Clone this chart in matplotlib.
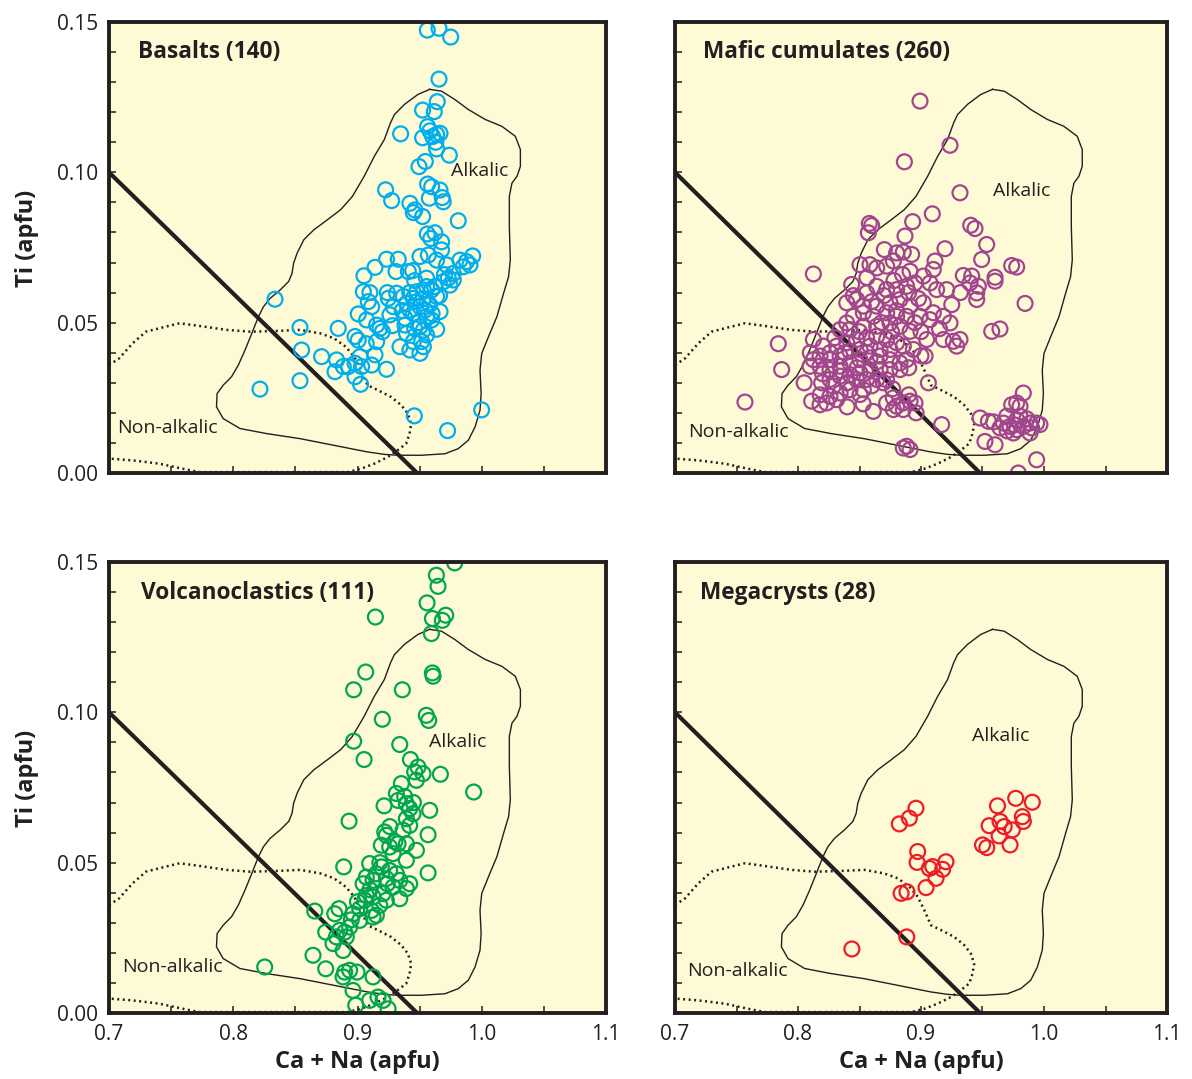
import matplotlib
matplotlib.use("Agg")
import matplotlib.pyplot as plt
from matplotlib.ticker import MultipleLocator, FormatStrFormatter

plt.rcParams['font.family'] = ['Open Sans', 'DejaVu Sans']

# ---------------- data ----------------
basalts = [
    (0.9562,0.1473),(0.9656,0.1479),(0.9750,0.1450),(0.9656,0.1310),(0.9642,0.1235),(0.9524,0.1207),
    (0.9618,0.1202),(0.9347,0.1128),(0.9564,0.1152),(0.9583,0.1138),(0.9524,0.1115),(0.9637,0.1126),
    (0.9664,0.1130),(0.9605,0.1119),(0.9637,0.1078),(0.9739,0.1057),(0.9546,0.1036),(0.9495,0.1019),
    (0.9226,0.0942),(0.9275,0.0906),(0.9564,0.0961),(0.9597,0.0952),(0.9664,0.0941),(0.9578,0.0914),
    (0.9682,0.0916),(0.9690,0.0902),(0.9422,0.0897),(0.9462,0.0875),
    (0.9449,0.0866),(0.9524,0.0853),(0.9811,0.0839),
    (0.9562,0.0795),(0.9623,0.0799),(0.9677,0.0769),(0.9677,0.0742),
    (0.9503,0.0720),(0.9570,0.0725),(0.9637,0.0708),(0.9717,0.0692),
    (0.9234,0.0711),(0.9328,0.0711),(0.9310,0.0670),(0.9409,0.0670),(0.9444,0.0673),
    (0.9141,0.0684),(0.9052,0.0656),
    (0.9825,0.0708),(0.9878,0.0703),(0.9927,0.0722),(0.9905,0.0692),(0.9851,0.0686),
    (0.9771,0.0664),(0.9731,0.0648),(0.9690,0.0636),(0.9771,0.0642),(0.9744,0.0625),
    (0.9556,0.0648),(0.9556,0.0620),(0.9597,0.0609),(0.9637,0.0587),(0.9530,0.0609),(0.9476,0.0603),(0.9449,0.0581),
    (0.9047,0.0603),(0.9100,0.0600),(0.9087,0.0570),(0.9114,0.0553),
    (0.9248,0.0581),(0.9315,0.0598),(0.9288,0.0553),(0.9261,0.0526),
    (0.9369,0.0587),(0.9395,0.0564),(0.9422,0.0542),(0.9449,0.0531),(0.9382,0.0515),
    (0.9503,0.0553),(0.9543,0.0542),(0.9556,0.0520),(0.9597,0.0509),(0.9664,0.0537),
    (0.9006,0.0529),(0.9154,0.0492),(0.9181,0.0481),(0.9073,0.0509),
    (0.8845,0.0481),(0.8980,0.0454),(0.9006,0.0442),(0.9154,0.0437),
    (0.9503,0.0487),(0.9530,0.0475),(0.9556,0.0459),(0.9637,0.0478),
    (0.9395,0.0464),(0.9382,0.0492),(0.9449,0.0437),(0.9516,0.0437),(0.9503,0.0398),(0.9422,0.0409),(0.9342,0.0420),
    (0.9141,0.0393),(0.9114,0.0359),(0.9234,0.0345),
    (0.9020,0.0387),(0.8980,0.0365),(0.9033,0.0354),
    (0.8711,0.0387),(0.8832,0.0376),(0.8886,0.0354),(0.8819,0.0337),(0.8926,0.0354),(0.8980,0.0320),(0.9025,0.0295),
    (0.8336,0.0578),
    (0.8537,0.0484),(0.8550,0.0409),(0.8537,0.0307),(0.8215,0.0279),
    (0.9457,0.0190),(0.9725,0.0141),(0.9999,0.0210),
    (0.9476,0.0570),(0.9530,0.0580),(0.9490,0.0500),(0.9460,0.0480),(0.9420,0.0600),(0.9360,0.0540),
    (0.9580,0.0560),(0.9620,0.0620),(0.9700,0.0660),(0.9460,0.0640),(0.9200,0.0470),(0.9280,0.0490),
    (0.9530,0.0420),(0.9070,0.0430),(0.9240,0.0600),(0.9600,0.0530),(0.9660,0.0590),(0.9590,0.0780),
    (0.9630,0.1100),
]

mafic = [
    (0.8992,0.1237),(0.9236,0.1090),(0.8865,0.1035),(0.9317,0.0932),(0.9092,0.0862),(0.8932,0.0836),
    (0.8580,0.0830),(0.8599,0.0823),(0.8572,0.0799),(0.9404,0.0824),(0.9439,0.0813),(0.9534,0.0760),
    (0.8870,0.0788),(0.8702,0.0743),(0.8802,0.0732),(0.8856,0.0735),(0.8924,0.0727),(0.9195,0.0746),
    (0.9493,0.0710),(0.9114,0.0705),(0.9737,0.0690),(0.9778,0.0685),(0.8504,0.0693),(0.8585,0.0693),
    (0.8640,0.0682),(0.8721,0.0688),(0.8775,0.0705),(0.8125,0.0662),(0.8911,0.0671),(0.9019,0.0655),
    (0.9100,0.0677),(0.9344,0.0657),(0.9412,0.0655),(0.9602,0.0651),
    (0.8436,0.0627),(0.9398,0.0632),(0.9466,0.0621),(0.9602,0.0638),(0.9846,0.0564),(0.9453,0.0577),
    (0.9453,0.0599),(0.9209,0.0610),(0.9127,0.0610),(0.9073,0.0632),(0.8951,0.0632),(0.8883,0.0621),
    (0.8802,0.0610),(0.8721,0.0610),(0.8640,0.0621),(0.8558,0.0599),(0.8477,0.0577),(0.8396,0.0566),
    (0.8531,0.0555),(0.8640,0.0555),(0.8748,0.0566),(0.8829,0.0577),(0.8911,0.0555),(0.9019,0.0566),
    (0.9100,0.0533),(0.9182,0.0521),(0.9236,0.0499),(0.9073,0.0510),(0.8992,0.0521),(0.8883,0.0521),
    (0.8802,0.0521),(0.8721,0.0533),(0.8612,0.0521),(0.8531,0.0533),(0.8450,0.0521),(0.8396,0.0499),
    (0.8342,0.0477),(0.8423,0.0477),(0.8531,0.0488),(0.8640,0.0488),(0.8748,0.0499),(0.8829,0.0488),
    (0.8911,0.0471),(0.9575,0.0471),(0.9642,0.0479),(0.9046,0.0444),(0.9182,0.0444),(0.9263,0.0438),
    (0.9290,0.0422),(0.9317,0.0444),(0.9033,0.0389),(0.8938,0.0411),
    (0.8125,0.0444),(0.8206,0.0422),(0.8260,0.0400),(0.8314,0.0422),(0.8396,0.0433),(0.8477,0.0444),
    (0.8558,0.0449),(0.8640,0.0455),(0.8721,0.0444),(0.8802,0.0433),(0.8856,0.0422),(0.8748,0.0411),
    (0.8667,0.0411),(0.8585,0.0422),(0.8504,0.0411),(0.8423,0.0405),(0.8342,0.0389),(0.8260,0.0377),
    (0.8179,0.0389),(0.8125,0.0377),(0.8098,0.0355),(0.8179,0.0355),(0.8260,0.0344),(0.8342,0.0355),
    (0.8423,0.0366),(0.8504,0.0377),(0.8585,0.0383),(0.8667,0.0389),(0.8748,0.0377),(0.8829,0.0366),
    (0.8883,0.0377),(0.8829,0.0344),(0.8748,0.0344),(0.8667,0.0344),(0.8585,0.0344),(0.8504,0.0333),
    (0.8423,0.0327),(0.8342,0.0322),(0.8260,0.0311),(0.8192,0.0300),(0.8287,0.0289),(0.8396,0.0300),
    (0.8477,0.0311),(0.8558,0.0311),(0.8640,0.0311),(0.8694,0.0300),(0.8531,0.0277),(0.8423,0.0277),
    (0.8342,0.0266),(0.7840,0.0430),(0.7867,0.0344),(0.7569,0.0236),
    (0.8111,0.0239),(0.8179,0.0227),(0.8233,0.0233),(0.8314,0.0244),(0.8260,0.0255),(0.8504,0.0261),
    (0.8612,0.0205),(0.8721,0.0233),(0.8775,0.0250),(0.8802,0.0222),(0.8856,0.0233),(0.8911,0.0239),
    (0.8951,0.0233),(0.8775,0.0211),(0.8856,0.0211),(0.9168,0.0161),(0.8856,0.0083),(0.8911,0.0078),
    (0.8883,0.0089),
    (0.9832,0.0266),(0.9778,0.0233),(0.9737,0.0227),(0.9805,0.0222),(0.9480,0.0183),(0.9548,0.0172),
    (0.9520,0.0105),(0.9602,0.0094),(0.9670,0.0166),(0.9724,0.0155),(0.9778,0.0144),(0.9832,0.0155),
    (0.9886,0.0166),(0.9940,0.0166),(0.9967,0.0161),(0.9886,0.0133),(0.9778,0.0177),(0.9697,0.0189),
    (0.9805,0.0189),(0.9751,0.0133),(0.9642,0.0150),(0.9940,0.0044),(0.9791,0.0000),
    (0.8450,0.0590),(0.8700,0.0590),(0.8900,0.0600),(0.8600,0.0570),(0.8800,0.0540),(0.8950,0.0500),
    (0.8680,0.0500),(0.8500,0.0470),(0.8760,0.0470),(0.8560,0.0400),(0.8380,0.0400),(0.8640,0.0370),
    (0.8900,0.0350),(0.8350,0.0340),(0.8480,0.0350),(0.8720,0.0310),(0.8200,0.0330),(0.8400,0.0300),
    (0.8600,0.0290),(0.8100,0.0400),(0.8300,0.0450),(0.9000,0.0470),(0.9150,0.0480),(0.8980,0.0580),
    (0.9250,0.0560),(0.9320,0.0600),(0.8780,0.0640),(0.8850,0.0660),(0.8560,0.0650),(0.8400,0.0220),
    (0.8530,0.0230),(0.8960,0.0200),(0.8900,0.0260),(0.9060,0.0300),(0.9000,0.0390),(0.8770,0.0280),
    (0.8180,0.0260),(0.8050,0.0300),(0.9590,0.0170),(0.9860,0.0180),(0.9900,0.0150),(0.9700,0.0140),
    (0.9760,0.0160),
]

volcano = [
    (0.9782,0.1497),(0.9635,0.1456),(0.9648,0.1419),(0.9560,0.1364),(0.9603,0.1312),(0.9683,0.1306),
    (0.9710,0.1323),(0.9595,0.1262),(0.9144,0.1317),(0.9066,0.1134),(0.8969,0.1075),(0.9361,0.1075),
    (0.9603,0.1131),(0.9608,0.1120),(0.9554,0.0990),(0.9573,0.0973),(0.9200,0.0977),(0.8969,0.0904),
    (0.9340,0.0893),(0.9053,0.0843),(0.9426,0.0843),(0.9487,0.0818),(0.9460,0.0802),(0.9527,0.0796),
    (0.9667,0.0794),
    (0.9353,0.0763),(0.9474,0.0774),(0.9935,0.0735),(0.9313,0.0730),(0.9326,0.0707),(0.9214,0.0689),
    (0.9393,0.0696),(0.9420,0.0680),(0.9581,0.0674),(0.9447,0.0663),(0.9393,0.0646),(0.8932,0.0638),
    (0.9420,0.0624),(0.9367,0.0608),(0.9219,0.0602),(0.9232,0.0591),(0.9568,0.0593),(0.9192,0.0558),
    (0.9259,0.0552),(0.9326,0.0563),(0.9393,0.0563),(0.9474,0.0541),(0.9286,0.0530),(0.9393,0.0508),
    (0.9098,0.0497),(0.8889,0.0486),(0.9568,0.0466),(0.9192,0.0486),(0.9259,0.0474),(0.9313,0.0463),
    (0.9152,0.0463),(0.9071,0.0452),(0.9045,0.0430),(0.9125,0.0441),(0.9232,0.0447),(0.9340,0.0441),
    (0.9420,0.0430),(0.9393,0.0414),(0.9286,0.0419),(0.9206,0.0397),(0.9125,0.0386),(0.9071,0.0391),
    (0.9058,0.0375),(0.9232,0.0375),(0.9340,0.0380),(0.9179,0.0358),(0.9112,0.0341),(0.9125,0.0319),
    (0.9152,0.0325),(0.9018,0.0347),(0.8964,0.0330),(0.9018,0.0308),(0.8937,0.0286),(0.8851,0.0347),
    (0.8817,0.0330),(0.8656,0.0339),(0.8744,0.0269),(0.8857,0.0275),(0.8897,0.0269),(0.8910,0.0253),
    (0.8830,0.0253),(0.8803,0.0231),(0.8884,0.0208),(0.8642,0.0192),(0.8744,0.0147),(0.8253,0.0153),
    (0.8897,0.0136),(0.8937,0.0142),(0.8996,0.0136),(0.9125,0.0120),(0.8884,0.0120),(0.8964,0.0075),
    (0.9165,0.0053),(0.9206,0.0042),(0.9098,0.0042),(0.9246,0.0014),(0.8986,0.0026),
    (0.9260,0.0620),(0.9300,0.0570),(0.9180,0.0500),(0.9240,0.0430),(0.9100,0.0410),(0.9000,0.0370),
    (0.8950,0.0310),(0.9380,0.0720),(0.9450,0.0700),
]

megacrysts = [
    (0.8959,0.0681),(0.8905,0.0648),(0.8824,0.0629),(0.8973,0.0537),(0.8968,0.0501),(0.9203,0.0503),
    (0.9068,0.0481),(0.9095,0.0487),(0.9176,0.0478),(0.9122,0.0448),(0.9041,0.0417),(0.8838,0.0398),
    (0.8886,0.0403),(0.8884,0.0253),(0.8438,0.0213),(0.9622,0.0689),(0.9770,0.0714),(0.9905,0.0701),
    (0.9824,0.0653),(0.9832,0.0637),(0.9554,0.0623),(0.9643,0.0637),(0.9676,0.0620),(0.9743,0.0609),
    (0.9635,0.0589),(0.9724,0.0559),(0.9500,0.0559),(0.9535,0.0550),
]

# Alkalic field boundary (closed)
alkalic_x = [0.9581,0.9676,0.9784,0.9892,1.0027,1.0162,1.0270,1.0311,1.0311,1.0284,1.0243,1.0222,1.0222,
             1.0230,1.0216,1.0176,1.0122,1.0054,1.0000,0.9986,0.9995,0.9986,0.9946,0.9892,0.9811,0.9703,
             0.9514,0.9324,0.9216,0.9081,0.8811,0.8541,0.8270,0.8054,0.7919,0.7865,0.7870,0.7919,0.7986,
             0.8041,0.8095,0.8149,0.8203,0.8243,0.8297,0.8378,0.8446,0.8473,0.8486,0.8514,0.8568,0.8649,
             0.8757,0.8865,0.8959,0.9054,0.9135,0.9216,0.9265,0.9297,0.9378,0.9486,0.9581]
alkalic_y = [0.1276,0.1270,0.1242,0.1209,0.1176,0.1153,0.1120,0.1076,0.1020,0.0987,0.0964,0.0920,0.0820,
             0.0709,0.0653,0.0598,0.0520,0.0453,0.0398,0.0342,0.0264,0.0209,0.0153,0.0109,0.0081,0.0064,
             0.0059,0.0059,0.0062,0.0070,0.0092,0.0114,0.0131,0.0148,0.0181,0.0220,0.0264,0.0292,0.0320,
             0.0359,0.0409,0.0464,0.0520,0.0553,0.0581,0.0609,0.0637,0.0664,0.0698,0.0731,0.0776,0.0809,
             0.0842,0.0876,0.0920,0.0987,0.1053,0.1109,0.1164,0.1192,0.1226,0.1259,0.1276]

# Non-alkalic field boundary (dotted)
nonalk_x = [0.7000,0.7081,0.7189,0.7297,0.7459,0.7568,0.7730,0.7946,0.8135,0.8324,0.8541,0.8703,0.8811,
            0.8905,0.8973,0.9027,0.9081,0.9162,0.9270,0.9351,0.9405,0.9432,0.9419,0.9392,0.9324,0.9243,
            0.9135,0.9027,0.8919,0.7730,0.7595,0.7405,0.7189,0.7000]
nonalk_y = [0.0359,0.0381,0.0431,0.0470,0.0487,0.0498,0.0489,0.0476,0.0470,0.0472,0.0476,0.0464,0.0448,
            0.0420,0.0387,0.0342,0.0292,0.0276,0.0253,0.0226,0.0198,0.0164,0.0131,0.0098,0.0076,0.0053,
            0.0031,0.0014,0.0003,0.0003,0.0014,0.0031,0.0042,0.0048]

# dividing line
div_x = [0.7, 0.948]
div_y = [0.10, 0.0]

panels = [
    dict(name="Basalts (140)", pts=basalts, color="#00AEEF",
         alk=(0.998, 0.1005), non=(0.7064, 0.0150), title=(0.723, 0.1400)),
    dict(name="Mafic cumulates (260)", pts=mafic, color="#A1458F",
         alk=(0.9816, 0.0937), non=(0.7110, 0.0136), title=(0.7227, 0.1400)),
    dict(name="Volcanoclastics (111)", pts=volcano, color="#00A651",
         alk=(0.981, 0.0900), non=(0.7105, 0.0152), title=(0.7258, 0.1397)),
    dict(name="Megacrysts (28)", pts=megacrysts, color="#EE1C25",
         alk=(0.965, 0.0920), non=(0.7097, 0.0139), title=(0.7203, 0.1397)),
]

W, H = 1192, 1079
fig = plt.figure(figsize=(W/100, H/100), dpi=100)
fig.patch.set_facecolor("white")

rects = [
    (109/W, 1-473/H, 497/W, 451/H),
    (675/W, 1-473/H, 492/W, 451/H),
    (109/W, 1-1013/H, 497/W, 451/H),
    (675/W, 1-1013/H, 492/W, 451/H),
]

for i, (p, r) in enumerate(zip(panels, rects)):
    ax = fig.add_axes(r)
    ax.set_facecolor("#FEFAD6")
    ax.set_xlim(0.7, 1.1)
    ax.set_ylim(0.0, 0.15)
    for s in ax.spines.values():
        s.set_linewidth(2.8)
        s.set_color("#231F20")
        s.set_zorder(10)
    ax.xaxis.set_major_locator(MultipleLocator(0.1))
    ax.xaxis.set_minor_locator(MultipleLocator(0.05))
    ax.yaxis.set_major_locator(MultipleLocator(0.05))
    ax.yaxis.set_minor_locator(MultipleLocator(0.01))
    ax.xaxis.set_major_formatter(FormatStrFormatter("%.1f"))
    ax.yaxis.set_major_formatter(FormatStrFormatter("%.2f"))
    ax.tick_params(which="both", direction="in", top=False, right=False,
                   length=5, width=1.1, color="#231F20")
    ax.tick_params(which="major", labelsize=15, pad=8, labelcolor="#231F20")
    if i < 2:
        ax.tick_params(labelbottom=False)
    if i % 2 == 1:
        ax.tick_params(labelleft=False)

    ax.plot(alkalic_x, alkalic_y, color="#231F20", lw=1.0, zorder=2)
    ax.plot(nonalk_x, nonalk_y, color="#231F20", lw=1.8, ls=(0, (0.8, 1.4)), zorder=2)
    ax.plot(div_x, div_y, color="#231F20", lw=3.0, zorder=3, solid_capstyle="butt")

    xs = [q[0] for q in p["pts"]]
    ys = [q[1] for q in p["pts"]]
    ax.scatter(xs, ys, s=115, facecolors="none", edgecolors=p["color"],
               linewidths=1.6, zorder=4)

    ax.text(*p["title"], p["name"], fontsize=16.3, fontweight="bold",
            color="#231F20", va="center", ha="left", zorder=6)
    ax.text(*p["alk"], "Alkalic", fontsize=14, color="#231F20",
            va="center", ha="center", zorder=6)
    ax.text(*p["non"], "Non-alkalic", fontsize=14, color="#231F20",
            va="center", ha="left", zorder=6)

lab_kw = dict(fontsize=17, fontweight="bold", color="#231F20")
fig.text(27/W, 1-238/H, "Ti (apfu)", rotation=90, ha="center", va="center", **lab_kw)
fig.text(27/W, 1-778/H, "Ti (apfu)", rotation=90, ha="center", va="center", **lab_kw)
fig.text(357/W, 1-1062/H, "Ca + Na (apfu)", ha="center", va="center", **lab_kw)
fig.text(921/W, 1-1062/H, "Ca + Na (apfu)", ha="center", va="center", **lab_kw)

fig.savefig("out.png", dpi=100)
